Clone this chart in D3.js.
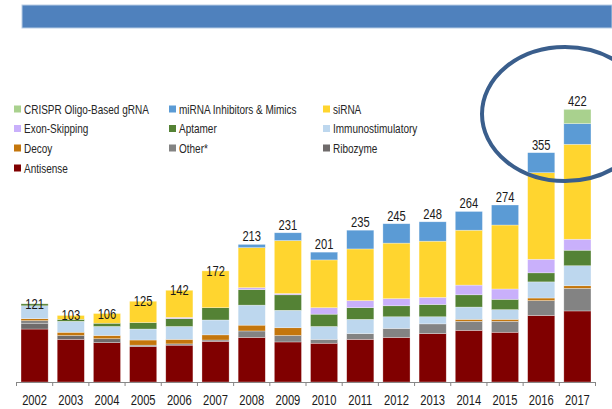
<!DOCTYPE html>
<html>
<head>
<meta charset="utf-8">
<script src="https://cdn.jsdelivr.net/npm/d3@7"></script>
<style>
  body { margin: 0; background: #fff; }
  text { font-family: "Liberation Sans", Arial, sans-serif; }
</style>
</head>
<body>
<script>
// categories
const years = ["2002","2003","2004","2005","2006","2007","2008","2009",
               "2010","2011","2012","2013","2014","2015","2016","2017"];

// series values, bottom of the stack first
const antisense     = [82, 66, 61, 55, 57, 63, 69, 62, 60, 66, 69, 75, 80, 77, 103, 110];
const ribozyme      = [ 9,  6,  6,  0,  0,  0,  0,  0,  0,  0,  0,  0,  0,  0,   0,   0];
const other         = [ 4,  0,  0,  2,  2,  2, 10, 10,  6,  9, 14, 15, 14, 17,  23,  35];
const decoy         = [ 3,  5,  5,  8,  7,  8,  9, 12,  0,  0,  0,  0,  3,  3,   4,   4];
const immuno        = [20, 17, 14, 17, 20, 23, 31, 27, 20, 22, 18, 11, 19, 15,  25,  31];
const aptamer       = [ 3,  3,  5, 10, 12, 19, 24, 24, 19, 18, 17, 19, 19, 16,  14,  24];
const exonSkipping  = [ 0,  0,  0,  0,  2,  0,  3,  2, 10, 11, 11, 11, 15, 16,  21,  17];
const sirna         = [ 0,  6, 15, 33, 42, 57, 62, 82, 74, 80, 86, 87, 85, 99, 134, 147];
const mirna         = [ 0,  0,  0,  0,  0,  0,  5, 12, 12, 29, 30, 30, 29, 31,  31,  32];
const crispr        = [ 0,  0,  0,  0,  0,  0,  0,  0,  0,  0,  0,  0,  0,  0,   0,  22];

const seriesNames = ["Antisense","Ribozyme","Other*","Decoy","Immunostimulatory",
                     "Aptamer","Exon-Skipping","siRNA","miRNA Inhibitors & Mimics","CRISPR Oligo-Based gRNA"];
const seriesValues = [antisense, ribozyme, other, decoy, immuno, aptamer, exonSkipping, sirna, mirna, crispr];
const colors = ["#800000","#6f6b6b","#838383","#c4760c","#bdd7ee",
                "#548235","#c9b0fb","#ffd52f","#5b9bd5","#a9d18e"];

// legend order as shown (rows of three)
const legendOrder = ["CRISPR Oligo-Based gRNA","miRNA Inhibitors & Mimics","siRNA",
                     "Exon-Skipping","Aptamer","Immunostimulatory",
                     "Decoy","Other*","Ribozyme","Antisense"];

const width = 612, height = 409;
const baseY = 382;
const squeeze = "scale(0.8,1)";   // narrow the font a bit, like Calibri

const svg = d3.select("body").append("svg")
    .attr("width", width)
    .attr("height", height);

// header band
svg.append("rect")
    .attr("x", 22).attr("y", 5)
    .attr("width", width - 22).attr("height", 23)
    .attr("fill", "#4f81bd")
    .attr("stroke", "#b9cde5").attr("stroke-width", 1);

// build table for stacking
const table = years.map((y, i) => {
  const row = {year: y};
  seriesNames.forEach((s, j) => row[s] = seriesValues[j][i]);
  return row;
});
const stacked = d3.stack().keys(seriesNames)(table);
const totals = table.map(r => d3.sum(seriesNames, s => r[s]));

const xScale = d3.scaleBand()
    .domain(years)
    .range([16.5, 595.5])
    .paddingInner(0.25)
    .paddingOuter(0.125);

const yScale = d3.scaleLinear()
    .domain([0, 450])
    .range([baseY, baseY - 450 * 0.646]);

const color = d3.scaleOrdinal().domain(seriesNames).range(colors);

// bars
svg.append("g")
  .selectAll("g")
  .data(stacked)
  .enter().append("g")
    .attr("fill", d => color(d.key))
  .selectAll("rect")
  .data(d => d.filter(p => p[1] > p[0]))
  .enter().append("rect")
    .attr("x", d => xScale(d.data.year))
    .attr("y", d => yScale(d[1]))
    .attr("width", xScale.bandwidth())
    .attr("height", d => yScale(d[0]) - yScale(d[1]))
    .attr("stroke", "#ffffff")
    .attr("stroke-opacity", 0.5)
    .attr("stroke-width", 0.6);

// total labels
svg.append("g")
  .selectAll("text")
  .data(totals)
  .enter().append("text")
    .attr("transform", (d, i) =>
      `translate(${xScale(years[i]) + xScale.bandwidth() / 2},${yScale(d) + (i < 6 ? 5 : -3)}) ${squeeze}`)
    .attr("text-anchor", "middle")
    .attr("font-size", 14)
    .attr("fill", "#1a1a1a")
    .text(d => d);

// x axis
const xAxis = d3.axisBottom(xScale).tickSize(0).tickPadding(13);
const axisG = svg.append("g")
    .attr("transform", `translate(0,${baseY})`)
    .call(xAxis);
axisG.select(".domain").attr("stroke", "#868686");
axisG.selectAll("text")
    .attr("font-size", 14)
    .attr("fill", "#1a1a1a")
    .attr("font-family", "'Liberation Sans', Arial, sans-serif")
    .attr("transform", squeeze);

// tick marks between categories
const bounds = years.map(y => xScale(y) - xScale.step() * xScale.paddingInner() / 2)
    .concat([595.5]);
axisG.selectAll(".sep")
  .data(bounds)
  .enter().append("line")
    .attr("x1", d => d).attr("x2", d => d)
    .attr("y1", 0).attr("y2", 4)
    .attr("stroke", "#868686");

// legend
const legendCols = [14, 169, 323];
const legendRows = [109, 128.5, 148, 168];
const legend = svg.append("g")
  .selectAll("g")
  .data(legendOrder)
  .enter().append("g")
    .attr("transform", (d, i) => `translate(${legendCols[i % 3]},${legendRows[Math.floor(i / 3)]})`);
legend.append("rect")
    .attr("x", 0).attr("y", -3.5)
    .attr("width", 7).attr("height", 7)
    .attr("fill", d => color(d));
legend.append("text")
    .attr("transform", `translate(10,4.5) ${squeeze}`)
    .attr("font-size", 12.5)
    .attr("fill", "#262626")
    .text(d => d);

// highlight ellipse
svg.append("ellipse")
    .attr("cx", 565).attr("cy", 114)
    .attr("rx", 83).attr("ry", 67)
    .attr("fill", "none")
    .attr("stroke", "#3a5e8c")
    .attr("stroke-width", 4);
</script>
</body>
</html>
